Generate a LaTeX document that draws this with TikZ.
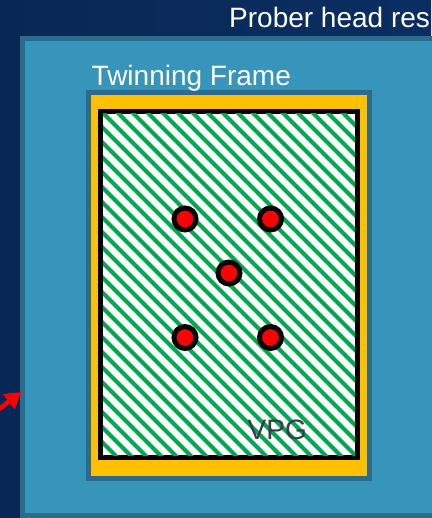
\documentclass[tikz,border=0pt]{standalone}
\usepackage{fontspec}
\setmainfont{Liberation Sans}
\usetikzlibrary{positioning,arrows.meta}
\definecolor{navybg}{HTML}{0A2E63}
\definecolor{panelfill}{HTML}{3794BB}
\definecolor{panelrim}{HTML}{2A6C8C}
\definecolor{framefill}{HTML}{FFC000}
\definecolor{hatchgreen}{HTML}{00A850}
\definecolor{labelgray}{HTML}{3A3A4A}
\tikzset{
  panel/.style={draw=panelrim,line width=5pt,fill=panelfill},
  frame/.style={draw=panelrim,line width=5pt,fill=framefill},
  plate/.style={draw=black,line width=5pt,fill=white},
  hatch/.style={draw=hatchgreen,line width=4pt},
  pad/.style={circle,draw=black,line width=5pt,fill=red,minimum size=22pt,inner sep=0pt},
  title/.style={font=\fontsize{28}{30}\selectfont,text=white,inner sep=0pt,anchor=base west},
  pointer/.style={-{Triangle[length=16pt,width=18pt]},line width=4.5pt,draw=red}
}
\begin{document}
\begin{tikzpicture}[x=1pt,y=-1pt]
\useasboundingbox (0,0) rectangle (431,518);
% Hintergrund und Tafel
\shade[left color=navybg!85!black,right color=navybg] (0,0) rectangle (431,518);
\draw[panel] (22.5,38.5) rectangle (445,515.5);
\node[title] (headtitle) at (229,28) {Prober head res};

% Twinning Frame
\draw[frame] (88.5,92.5) rectangle (369.5,478.5);
\node[title] (frametitle) at (91.5,86) {Twinning Frame};
\draw[plate] (100.5,111.5) rectangle (357.5,457.5);
\begin{scope}
  \clip (103,114) rectangle (355,455);
  \foreach \i in {-360,-345,...,360}
    \draw[hatch] (\i,100) -- ++(380,380);
\end{scope}
\node[title,text=labelgray] (vpg) at (247.5,439) {VPG};

% Kontaktpunkte
\node[pad] (pad1) at (185,219) {};
\node[pad] (pad2) at (270.5,219) {};
\node[pad] (pad3) at (229,273) {};
\node[pad] (pad4) at (185,337.5) {};
\node[pad] (pad5) at (270.5,337.5) {};

% Pfeil links
\coordinate (arrowtail) at (-10,416);
\coordinate (arrowtip) at (21.5,392);
\draw[pointer] (arrowtail) -- (arrowtip);
\end{tikzpicture}
\end{document}
